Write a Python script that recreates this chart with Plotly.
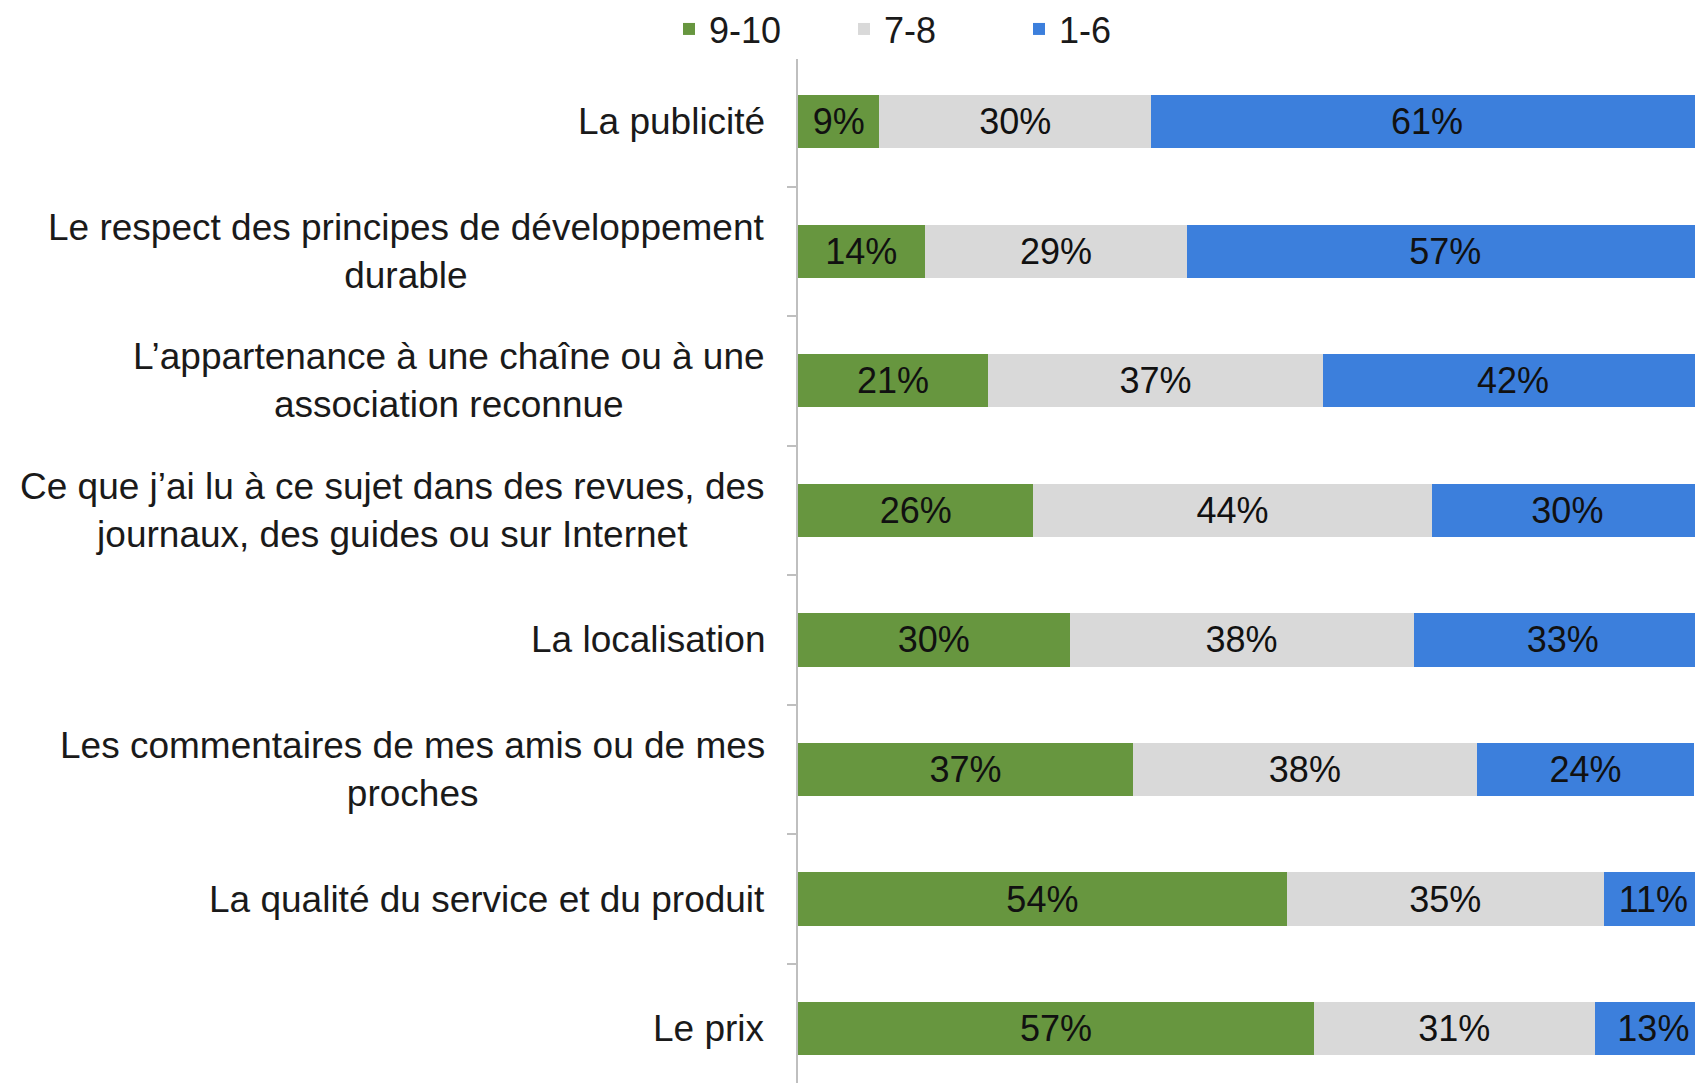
import plotly.graph_objects as go

# Critères (de haut en bas) et répartition des notes en %
criteres = [
    "La publicité",
    "Le respect des principes de développement<br>durable",
    "L’appartenance à une chaîne ou à une<br>association reconnue",
    "Ce que j’ai lu à ce sujet dans des revues, des<br>journaux, des guides ou sur Internet",
    "La localisation",
    "Les commentaires de mes amis ou de mes<br>proches",
    "La qualité du service et du produit",
    "Le prix",
]
note_9_10 = [9, 14, 21, 26, 30, 37, 54, 57]
note_7_8 = [30, 29, 37, 44, 38, 38, 35, 31]
note_1_6 = [61, 57, 42, 30, 33, 24, 11, 13]

series = [("9-10", note_9_10, "#67963f"),
          ("7-8", note_7_8, "#d9d9d9"),
          ("1-6", note_1_6, "#3c7fdc")]

police = "Liberation Sans, Arial, sans-serif"

fig = go.Figure()
for nom, vals, coul in series:
    fig.add_bar(
        y=criteres, x=vals, name=nom, orientation="h",
        marker=dict(color=coul, line=dict(width=0)),
        text=[f"{v}%" for v in vals], textposition="inside",
        insidetextanchor="middle", constraintext="none",
        textfont=dict(family=police, size=36, color="#111111"),
    )

# étiquettes des catégories centrées (comme dans l'original)
for c in criteres:
    fig.add_annotation(
        x=0, xref="paper", xanchor="right", xshift=-31,
        y=c, yref="y", yanchor="middle",
        text=c, showarrow=False, align="center",
        font=dict(family=police, size=37, color="#1a1a1a"),
    )

# la page a une marge de 8 px : on réduit la figure pour éviter les barres de défilement
fig.update_layout(
    barmode="stack",
    bargap=0.59,
    width=1687, height=1075,
    margin=dict(l=790, r=0, t=49, b=0, autoexpand=False),
    plot_bgcolor="white", paper_bgcolor="white",
    font=dict(family=police, size=36, color="#1a1a1a"),
    legend=dict(
        orientation="h", x=-0.1438, xanchor="left", y=0.998, yanchor="bottom",
        entrywidth=130, font=dict(size=36, color="#1a1a1a"),
        traceorder="normal",
    ),
)
# la dernière barre est coupée au bord droit, comme dans l'original
fig.update_xaxes(range=[0, 99.1], visible=False)
fig.update_yaxes(
    range=[7.42, -0.5], showticklabels=False,
    showline=True, linecolor="#bfbfbf", linewidth=2,
    ticks="outside", tickson="boundaries", ticklen=9, tickcolor="#bfbfbf",
    tickwidth=2, showgrid=False,
)

fig.write_html("out.html")
